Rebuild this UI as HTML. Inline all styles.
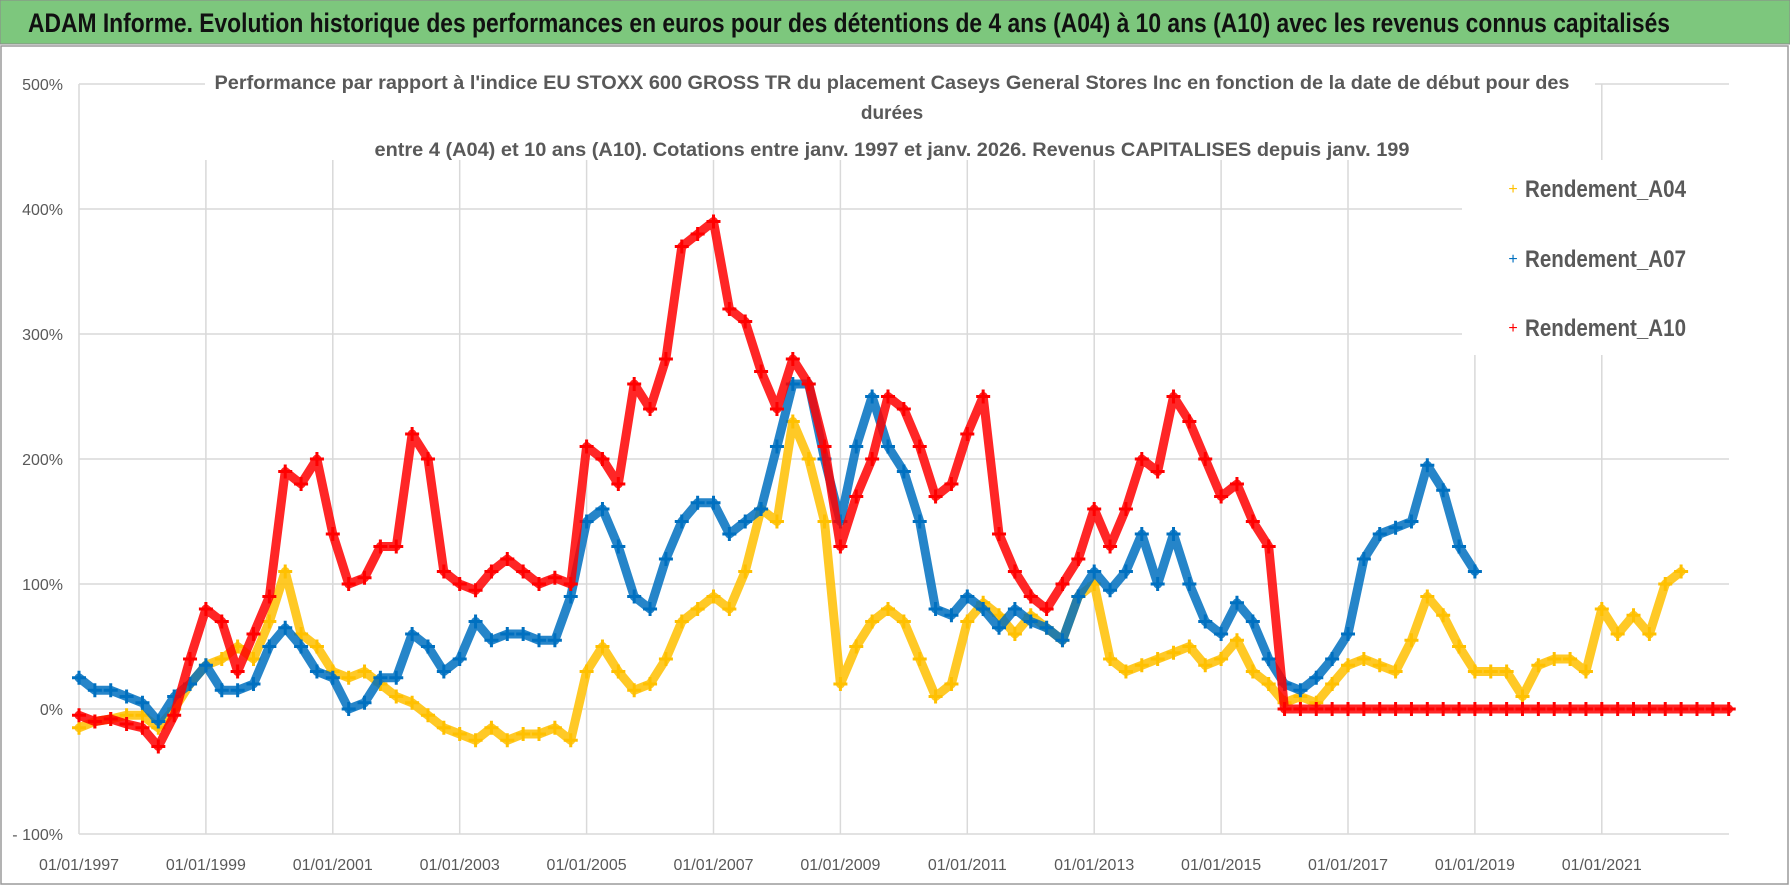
<!DOCTYPE html>
<html><head><meta charset="utf-8"><style>
html,body{margin:0;padding:0;background:#fff;}
svg{display:block;font-family:"Liberation Sans",sans-serif;}
</style></head><body>
<svg id="chart" width="1790" height="886" viewBox="0 0 1790 886">
<rect x="0" y="0" width="1790" height="886" fill="#fff"/>
<rect x="0" y="0" width="1790" height="44" fill="#7dc77d" stroke="#8a8a8a"/>
<text x="28" y="32" font-size="27" font-weight="bold" fill="#111" textLength="1642" lengthAdjust="spacingAndGlyphs">ADAM Informe. Evolution historique des performances en euros pour des détentions de 4 ans (A04) à 10 ans (A10) avec les revenus connus capitalisés</text>
<rect x="1" y="46" width="1787" height="838" fill="none" stroke="#9a9a9a" stroke-width="1.5"/>
<g id="grid"></g>
<g id="axes"></g>
<g id="marks"></g>
<rect x="205" y="60" width="1390" height="100" fill="#fff"/>
<g fill="#595959" font-weight="bold" font-size="19" text-anchor="middle">
<text x="892" y="89" textLength="1355" lengthAdjust="spacingAndGlyphs">Performance par rapport à l'indice EU STOXX 600 GROSS TR  du placement Caseys General Stores Inc en fonction de la date de début pour des</text>
<text x="892" y="119">durées</text>
<text x="892" y="156" textLength="1035" lengthAdjust="spacingAndGlyphs">entre 4 (A04) et 10 ans (A10).  Cotations entre janv. 1997 et janv. 2026. Revenus CAPITALISES depuis janv. 199</text>
</g>
<rect x="1462" y="160" width="268" height="195" fill="#fff"/>
<g>
<g><text x="1513" y="194" fill="#ffc000" font-size="16" text-anchor="middle">+</text><text x="1525" y="197" font-size="24" font-weight="bold" fill="#595959" textLength="161" lengthAdjust="spacingAndGlyphs">Rendement_A04</text></g>
<g><text x="1513" y="264" fill="#0070c0" font-size="16" text-anchor="middle">+</text><text x="1525" y="267" font-size="24" font-weight="bold" fill="#595959" textLength="161" lengthAdjust="spacingAndGlyphs">Rendement_A07</text></g>
<g><text x="1513" y="333" fill="#ff0000" font-size="16" text-anchor="middle">+</text><text x="1525" y="336" font-size="24" font-weight="bold" fill="#595959" textLength="161" lengthAdjust="spacingAndGlyphs">Rendement_A10</text></g>
</g>
</svg>
<script>
const startYear = 1997;
const stepYears = 0.25;
const yTicks = [-100, 0, 100, 200, 300, 400, 500];
const xTickYears = [1997,1999,2001,2003,2005,2007,2009,2011,2013,2015,2017,2019,2021];
const xTickLabels = ["01/01/1997","01/01/1999","01/01/2001","01/01/2003","01/01/2005","01/01/2007","01/01/2009","01/01/2011","01/01/2013","01/01/2015","01/01/2017","01/01/2019","01/01/2021"];
const a04 = [-15,-10,-8,-5, -5,-15,0,20, 35,40,50,40, 70,110,60,50, 30,25,30,20, 10,5,-5,-15, -20,-25,-15,-25, -20,-20,-15,-25, 30,50,30,15, 20,40,70,80, 90,80,110,160, 150,230,200,150, 20,50,70,80, 70,40,10,20, 70,85,75,60, 75,65,55,90, 100,40,30,35, 40,45,50,35, 40,55,30,20, 5,10,5,20, 35,40,35,30, 55,90,75,50, 30,30,30,10, 35,40,40,30, 80,60,75,60, 100,110];
const a07 = [25,15,15,10, 5,-10,10,20, 35,15,15,20, 50,65,50,30, 25,0,5,25, 25,60,50,30, 40,70,55,60, 60,55,55,90, 150,160,130,90, 80,120,150,165, 165,140,150,160, 210,260,260,200, 150,210,250,210, 190,150,80,75, 90,80,65,80, 70,65,55,90, 110,95,110,140, 100,140,100,70, 60,85,70,40, 20,15,25,40, 60,120,140,145, 150,195,175,130, 110];
const a10 = [-5,-10,-8,-12, -15,-30,-5,40, 80,70,30,60, 90,190,180,200, 140,100,105,130, 130,220,200,110, 100,95,110,120, 110,100,105,100, 210,200,180,260, 240,280,370,380, 390,320,310,270, 240,280,260,210, 130,170,200,250, 240,210,170,180, 220,250,140,110, 90,80,100,120, 160,130,160,200, 190,250,230,200, 170,180,150,130, 0,0,0,0, 0,0,0,0, 0,0,0,0, 0,0,0,0, 0,0,0,0, 0,0,0,0, 0,0,0,0, 0];

const NS = "http://www.w3.org/2000/svg";
const L = 79, R = 1729, T = 84, B = 834;
function xScale(yr){ return L + (yr - 1997) * 63.45; }
function yScale(v){ return 709 - v * 1.25; }
function mk(tag, attrs, parent){ const e = document.createElementNS(NS, tag); for (const k in attrs) e.setAttribute(k, attrs[k]); parent.appendChild(e); return e; }

const grid = document.getElementById('grid');
const axes = document.getElementById('axes');
yTicks.forEach(v => {
  const ln = mk('line', {x1:L, x2:R, y1:yScale(v), y2:yScale(v), stroke:'#d9d9d9', 'stroke-width':1.5}, grid);
  
  
  const t = mk('text', {x:63, y:yScale(v)+6, 'text-anchor':'end', 'font-size':16, fill:'#595959'}, axes);
  t.textContent = v < 0 ? '- ' + Math.abs(v) + '%' : v + '%';
  
  
});
xTickYears.forEach((yr, i) => {
  const ln = mk('line', {x1:xScale(yr), x2:xScale(yr), y1:T, y2:B, stroke:'#d9d9d9', 'stroke-width':1.5}, grid);
  
  
  const t = mk('text', {x:xScale(yr), y:870, 'text-anchor':'middle', 'font-size':16, fill:'#595959'}, axes);
  t.textContent = xTickLabels[i];
  
  
});

const marks = document.getElementById('marks');
function drawSeries(vals, color, name){
  const g = mk('g', {}, marks);
  
  
  const pts = vals.map((v,i) => xScale(startYear + i*stepYears).toFixed(1) + ',' + yScale(v).toFixed(1)).join(' ');
  const pl = mk('polyline', {points:pts, fill:'none', stroke:color, 'stroke-width':9, 'stroke-linejoin':'round', 'stroke-linecap':'round', opacity:0.85}, g);
  
  
  vals.forEach((v,i) => {
    const x = xScale(startYear + i*stepYears), y = yScale(v);
    const p = mk('path', {d:`M${x-7},${y}H${x+7}M${x},${y-7}V${y+7}`, stroke:color, 'stroke-width':3}, g);
    
    
  });
}
drawSeries(a04, '#ffc000', 'series-a04');
drawSeries(a07, '#0070c0', 'series-a07');
drawSeries(a10, '#ff0000', 'series-a10');
</script>
</body></html>
